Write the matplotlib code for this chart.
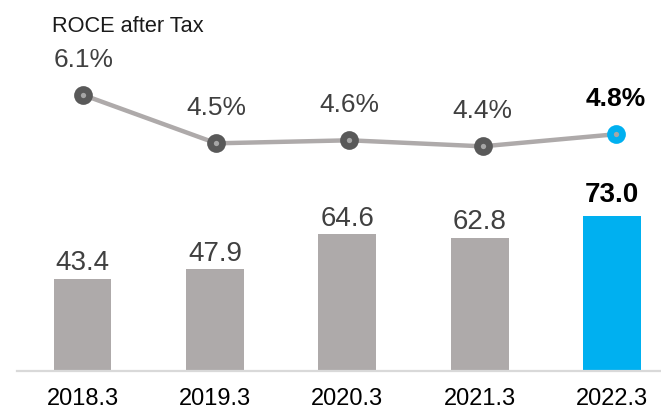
import matplotlib
matplotlib.use("Agg")
import matplotlib.pyplot as plt

plt.rcParams['font.family'] = ['Liberation Sans', 'DejaVu Sans']

# Data
periods = ["2018.3", "2019.3", "2020.3", "2021.3", "2022.3"]
capital = [43.4, 47.9, 64.6, 62.8, 73.0]
roce = [6.1, 4.5, 4.6, 4.4, 4.8]
roce_labels = ["6.1%", "4.5%", "4.6%", "4.4%", "4.8%"]
bar_labels = ["43.4", "47.9", "64.6", "62.8", "73.0"]

GRAY = "#AEAAAA"
BLUE = "#00B0F0"
DARK = "#595959"
TEXT = "#404040"

W, H = 661, 408
fig = plt.figure(figsize=(W / 100, H / 100), dpi=100)

# Bar panel
base_px = 37.3
ax = fig.add_axes([0, base_px / H, 1, (H - base_px) / H])
x = list(range(len(periods)))
colors = [GRAY] * (len(periods) - 1) + [BLUE]
ax.bar(x, capital, width=0.438, color=colors, zorder=2)
ax.set_xlim(-82.5 / 132.4, (W - 82.5) / 132.4)
ax.set_ylim(0, (H - base_px) / 2.117)
for s in ax.spines.values():
    s.set_visible(False)
ax.set_yticks([])
ax.set_xticks(x)
ax.set_xticklabels(periods, fontsize=17, color="#000000")
ax.tick_params(axis="x", length=0, pad=12.5)
ax.axhline(0, xmin=16.7 / W, xmax=1, color="#D9D9D9", lw=1.6, zorder=3, clip_on=False)

for i, (v, lab) in enumerate(zip(capital, bar_labels)):
    last = i == len(capital) - 1
    ax.annotate(lab, (i, v), xytext=(0, 10 if last else 6), textcoords="offset points",
                ha="center", va="baseline", fontsize=20,
                fontweight="bold" if last else "normal",
                color="#000000" if last else TEXT)

# Line panel
lx = fig.add_axes([0, 0, 1, 1], facecolor="none")
lx.set_xlim(-83.3 / 133.1, (W - 83.3) / 133.1)
lx.set_ylim(6.1 - 313 / 30.2, 6.1 + 95 / 30.2)
lx.axis("off")
lx.plot(x, roce, color=GRAY, lw=3.2, solid_capstyle="round", zorder=2)
marker_colors = [DARK] * (len(roce) - 1) + [BLUE]
for i, (v, c) in enumerate(zip(roce, marker_colors)):
    lx.plot([i], [v], marker="o", markersize=13.5, color=c, markeredgewidth=0, zorder=3)
    lx.plot([i], [v], marker="o", markersize=3.8, color="#A6A6A6", markeredgewidth=0, zorder=4)
for i, (v, lab) in enumerate(zip(roce, roce_labels)):
    last = i == len(roce) - 1
    lx.annotate(lab, (i, v), xytext=(0, 20.5), textcoords="offset points",
                ha="center", va="baseline", fontsize=19,
                fontweight="bold" if last else "normal",
                color="#000000" if last else TEXT)

fig.text(51.7 / W, 1 - 32 / H, "ROCE after Tax", fontsize=15.7, color="#1A1A1A",
         ha="left", va="baseline")

fig.savefig("out.png", dpi=100)
